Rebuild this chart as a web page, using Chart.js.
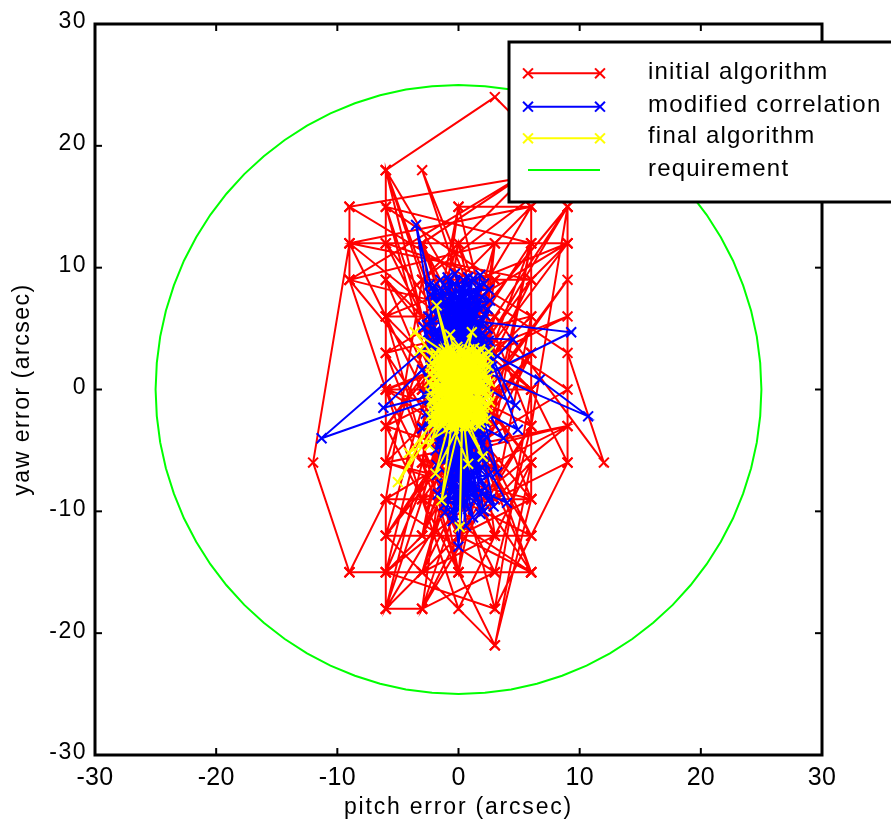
<!DOCTYPE html>
<html><head><meta charset="utf-8">
<script src="https://cdn.jsdelivr.net/npm/chart.js@4.4.0/dist/chart.umd.min.js"></script>
<style>html,body{margin:0;padding:0;background:#fff;}canvas{display:block;}</style>
</head><body>
<canvas id="c" width="891" height="829"></canvas>
<script>
// ---------------- data ----------------
const seriesNames = ['initial algorithm', 'modified correlation', 'final algorithm', 'requirement'];
const xTickValues = [-30, -20, -10, 0, 10, 20, 30];
const yTickValues = [-30, -20, -10, 0, 10, 20, 30];
const xTitle = 'pitch error (arcsec)';
const yTitle = 'yaw error (arcsec)';

const initialAlgorithm = [
 [0,0],[3,-3],[-3,3],[0,6],[-6,6],[-6,-6],[3,-9],[6,-9],[6,9],[-3,9],
 [-6,18],[3,24],[9,18],[-9,15],[-9,9],[3,12],[0,-6],[-3,-12],[-6,-15],[-9,-15],
 [-12,-6],[-9,12],[9,12],[9,15],[6,-3],[3,-15],[-3,-18],[-6,-18],[-6,-9],[6,-9],
 [3,-21],[-6,-12],[0,-3],[-3,6],[6,15],[0,15],[-3,0],[3,6],[12,-6],[9,3],
 [0,9],[-3,18],[3,3],[-6,0],[6,0],[9,-6],[3,-9],[-3,-6],[0,-15],[6,-15],
 [0,-12],[-6,3],[6,6],[-3,-3],[3,9],[-6,12],[6,12],[0,3],[-3,-9],[3,-6],
 [-6,-3],[6,3],[0,-9],[-3,12],[6,18],[-9,9],[0,-18],[3,-12],[-3,-15],[6,-6],
 [-6,9],[3,0],[0,12],[-3,-6],[9,-3],[-6,-15],[3,-18],[6,-12],[-3,3],[0,-3],
 [6,9],[9,12],[-6,6],[0,0],[-3,-12],[3,3],[-6,-6],[6,-9],[0,6],[-3,12],
 [3,-3],[-6,-18],[-3,-9],[6,-15],[-9,-15],[-6,-9],[-3,9],[6,0],[-9,12],[3,-12],
 [0,9],[-6,-12],[6,-12],[9,-6],[9,15],[3,6],[-3,-15],[6,3],[0,-6],[-6,18],
 [-6,-3],[3,-21],[6,-6],[6,15],[-3,0],[0,-15],[6,12],[-6,15],[3,9],[0,3],
 [-3,-18],[3,-6],[-6,0],[0,-12],[6,-3],[0,0],
 [9,12],[-6,3],[6,-15],[-3,6],[6,15],[-9,12],[6,9],[-3,-3],[3,-15],[-6,-9],
 [9,0],[0,6],[-6,-18],[3,-9],[6,6],[-9,15],[9,18],[-3,9],[0,-9],[6,-12],
 [-6,12],[3,0],[-3,-18],[6,-3],[0,12],[-6,-6],[9,-3],[3,-6],[-3,12],[6,18],
 [-6,6],[0,-15],[3,12],[-3,-9],[6,3],[-6,-12],[9,9],[0,-3],[-6,15],[3,-18],
 [6,0],[-3,3],[0,9],[-6,-15],[3,6],[-9,9],[6,-9],[0,-12],[-3,0],[9,6],
 [-6,0],[3,-3],[6,12],[-3,-12],[0,3],[-6,9],[3,-12],[6,-6],[-3,6],[0,0],
 [9,15],[-6,-3],[3,9],[0,-6],[-3,-15],[6,-15],[-6,18],[3,3],[0,15],[-3,-6]
];

const modifiedCorrelation = [
 [0.3,1.2],[-0.8,4.5],[1.1,-2.3],[-0.4,6.8],[0.9,-5.1],[-1.2,2.7],[1.6,7.9],[-0.2,-7.4],[0.7,3.6],[-1.9,-1.8],
 [1.3,5.2],[-0.6,-4.3],[0.2,8.4],[-1.4,0.6],[2.1,-3.7],[-0.9,6.1],[0.5,-8.6],[-2.2,3.9],[1.0,1.5],[-0.3,-6.2],
 [1.8,9.4],[0.4,-2.9],[-1.1,7.2],[0.8,-9.8],[-0.7,2.2],[1.5,-6.7],[-3.5,13.5],[-2.2,5.7],[0.1,-1.0],[1.2,6.5],
 [-1.6,-3.4],[0.6,4.8],[-0.5,-10.8],[2.3,0.3],[-1.3,8.1],[0.9,-7.9],[-2.5,6.0],[1.7,-0.9],[-0.1,5.5],[2.9,-9.6],
 [-0.8,-5.6],[1.4,3.0],[-1.8,-7.0],[0.3,7.6],[4.7,-1.3],[-0.6,1.9],[1.9,7.6],[-1.0,-2.6],[0.0,-12.9],[0.7,-4.6],
 [-1.5,4.1],[1.1,8.8],[-0.4,-8.3],[2.0,2.4],[-2.8,-0.4],[0.6,6.3],[-11.3,-4.0],[-2.4,-0.9],[1.3,-5.8],[-0.9,3.3],
 [0.4,9.0],[-0.2,-3.9],[1.8,-4.1],[-1.2,5.9],[9.3,4.7],[1.0,0.6],[-0.7,-6.9],[2.2,4.4],[-1.7,7.5],[1.8,-10.2],
 [-0.3,2.8],[3.7,-4.0],[-1.1,-1.5],[0.5,5.0],[-6.2,-1.5],[-1.4,-0.3],[1.6,6.9],[-0.8,-9.1],[0.9,2.0],[10.7,-2.2],
 [6.7,0.8],[1.2,3.8],[-2.0,8.5],[0.3,-7.1],[-0.5,4.6],[1.5,-2.0],[-1.0,7.0],[0.7,-3.2],[4.0,-9.3],[1.1,-8.0],
 [-0.6,0.4],[2.4,6.6],[-1.9,-5.0],[0.2,3.4],[-0.9,9.2],[1.3,-6.4],[-3.0,1.6],[-0.4,-2.2],[0.8,7.3],[4.9,-3.3],
 [0.6,-1.1],[-1.3,5.3],[1.7,1.1],[-0.2,-9.6],[0.5,8.0],[-2.1,2.0],[1.9,-7.5],[-0.7,6.4],[0.4,-4.8],[-1.6,3.1],
 [2.0,5.7],[-3.0,-3.2],[0.9,-0.5],[-0.5,7.9],[1.4,-9.0],[-1.0,1.2],[0.1,4.3],[4.5,4.1],[0.7,0.1],[-1.8,6.8],
 [1.0,-3.5],[-0.3,8.7],[0.8,-6.0],[-1.2,-4.4],[2.6,3.2],[-0.6,5.6],[0.3,-8.8],[-2.3,-2.5],[1.5,7.1],[-0.1,0.9],
 [0.6,-11.2],[-0.9,3.7],[1.2,-1.6],[-1.5,8.3],[0.4,2.6],[2.2,-6.1],[-0.8,6.0],[0.0,-5.3],[1.6,4.9],[-1.1,-8.4],
 [0.5,1.7],[-1.9,4.8],[0.9,-2.7],[-0.2,7.1],[1.3,0.0],
 [-2.3,7.8],[2.5,8.2],[-1.7,3.2],[2.2,6.1],[-2.5,4.7],[1.9,3.5],[-0.8,8.9],[2.6,7.3],[-2.1,6.4],[1.2,9.1],
 [-1.4,2.4],[2.4,5.0],[-2.4,8.6],[0.6,2.9],[-1.0,5.1],[2.1,8.7],[-2.2,3.5],[1.4,4.2],[-0.3,9.5],[2.3,2.8],
 [-1.9,7.1],[0.9,5.9],[-2.6,5.3],[1.7,8.5],[-0.6,3.3],[2.5,4.0],[-1.5,9.0],[0.2,6.0],[-2.0,4.4],[1.0,7.7],
 [-1.2,-9.5],[2.2,-8.1],[-0.9,-3.5],[1.9,-9.8],[-1.8,-6.2],[2.4,-4.9],[-0.5,-9.9],[1.6,-3.3],[-1.4,-7.8],[2.5,-7.0],
 [-0.2,-4.0],[1.2,-10.5],[-1.6,-4.7],[2.0,-5.3],[-0.7,-8.0],[1.5,-8.9],[-1.1,-5.7],[2.6,-9.0],[0.3,-3.6],[-0.4,-10.3],
 [1.8,-6.6],[-1.3,-3.1],[2.3,-3.9],[0.1,-9.2],[-1.7,-8.6],[1.0,-4.4],[2.1,-10.0],[-0.6,-7.3],[1.4,-5.5],[-2.0,-3.9],
 [0.4,8.2],[-1.6,6.0],[2.0,6.8],[-0.7,4.0],[1.1,2.6],[-2.3,2.6],[0.8,9.2],[-1.2,3.9],[2.4,3.6],[-0.2,6.6],
 [3.2,-6.8],[-2.9,5.1],[0.5,-6.9],[1.7,5.4],[-1.1,-10.1],[2.8,1.9],[-2.7,-2.0],[0.9,-8.4],[-0.4,3.0],[2.2,-2.7]
];

const finalAlgorithm = [
 [0.2,0.4],[1.6,2.2],[-1.5,-2.1],[1.8,-1.9],[-1.7,2.0],[0.9,-2.8],[-0.8,2.9],[2.0,0.5],[-2.0,-0.6],[1.2,2.7],
 [-1.3,-2.7],[1.9,-1.0],[-1.8,1.2],[0.5,3.1],[-0.4,-3.2],[2.1,1.4],[-2.1,-1.5],[1.4,-2.4],[-1.2,2.5],[0.1,-1.3],
 [-1.8,6.9],[0.3,-0.2],[1.7,1.8],[-1.6,-1.7],[1.0,-3.0],[-0.9,3.0],[2.2,-0.3],[-2.2,0.3],[0.6,2.4],[-5.0,-7.6],
 [0.7,0.8],[-1.1,-2.4],[1.5,2.9],[-1.9,1.8],[1.8,-2.2],[-0.6,-2.9],[0.4,2.0],[-3.6,4.7],[0.0,0.2],[1.3,-1.6],
 [-1.4,1.6],[2.0,2.3],[-2.0,-2.0],[0.8,-0.6],[-0.7,1.1],[1.1,4.7],[-0.3,-1.8],[1.6,0.2],[-1.5,-0.5],[0.2,2.8],
 [-1.4,-9.1],[0.5,-1.0],[-1.0,2.2],[1.9,1.1],[-1.7,-2.6],[0.9,2.5],[-0.2,-2.5],[1.4,-2.8],[-2.1,1.0],[0.8,-6.1],
 [0.1,0.9],[-1.2,-1.2],[1.7,2.6],[-1.9,-0.2],[1.2,-0.8],[-0.5,3.2],[0.3,-2.7],[2.2,0.8],[-0.7,4.5],[0.6,-0.4],
 [-1.6,2.7],[1.0,1.6],[-0.9,-2.0],[1.9,-1.6],[-2.2,-1.1],[0.4,1.3],[0.1,-11.3],[0.3,-1.5],[-1.1,1.9],[1.5,-2.1],
 [-0.8,-3.0],[1.8,0.9],[-1.3,0.5],[2.0,-5.5],[0.0,-0.8],[-1.8,2.4],[1.1,2.1],[-0.4,-1.4],[1.6,-0.5],[-2.0,1.5],
 [0.7,3.0],[-1.5,-2.8],[1.3,1.0],[-0.6,0.0],[1.9,2.7],[-3.2,3.2],[0.2,-0.5],[1.2,-2.6],[-1.0,-0.9],[0.5,1.8],
 [-1.9,-6.9],[0.4,-2.2],[-1.4,2.9],[1.7,-1.2],[-0.3,1.5],[2.1,-2.0],[-1.7,0.1],[0.9,0.3],[-0.8,-1.6],[1.4,2.4],
 [-2.1,-2.4],[0.6,-3.1],[-0.2,2.3],[1.9,2.7],[-1.1,0.8],[0.8,-1.9],[-1.6,-1.0],[1.5,1.5],[0.0,3.3],[-0.5,-2.2],
 [2.3,0.0],[-2.3,-0.3],[0.3,0.6],
 [1.8,3.3],[-2.2,-2.8],[2.4,-1.4],[-1.9,3.0],[0.6,-2.4],[-0.1,3.5],[2.5,1.9],[-2.3,1.3],[1.0,-2.9],[-1.2,3.3],
 [2.3,-2.5],[-2.0,-1.9],[0.2,1.6],[-1.5,0.9],[2.6,0.6],[-0.9,-2.6],[1.3,3.4],[-2.2,2.2],[1.7,-3.0],[-0.4,0.5],
 [0.9,1.2],[-1.8,-1.3],[2.4,2.6],[-1.3,-3.0],[0.4,-1.2],[-0.6,2.0],[2.0,-0.8],[-2.3,-2.2],[1.1,0.4],[-0.2,-0.3],
 [1.5,3.1],[-1.6,1.4],[0.7,-2.0],[-2.1,2.7],[2.2,1.2],[-0.7,-1.1],[0.0,2.5],[1.8,-2.7],[-1.0,3.1],[2.5,-0.5],
 [-2.4,0.6],[0.8,2.9],[-0.5,-2.8],[1.2,1.8],[-1.7,-0.8],[2.1,-1.5],[-0.3,1.0],[0.5,-3.0],[-1.4,2.0],[1.6,-1.8],
 [-4.1,-5.2],[0.6,0.7],[-1.1,-2.1],[2.3,2.0],[-2.0,0.0],[0.9,-1.3],[-0.8,3.4],[1.4,0.8],[-1.9,-2.3],[2.6,-1.0],
 [0.1,2.1],[-1.3,1.3],[1.7,3.0],[-2.2,-0.9],[1.0,-2.3],[-0.6,2.6],[2.2,0.3],[-1.5,-1.6],[0.3,3.2],[-0.9,0.2],
 [2.5,3.1],[-2.1,-2.9],[1.3,-0.2],[-0.4,-2.0],[1.9,1.9],[-1.8,0.7],[0.7,-2.6],[-1.2,2.8],[2.0,-2.4],[-0.1,1.4],
 [-2.4,-4.6],[0.4,0.1],[1.5,-1.0],[-1.6,2.2],[2.4,0.9],[-0.7,-0.4],[0.9,3.3],[-2.3,1.8],[1.1,-1.7],[0.0,-2.9]
];

const requirementX = [
 25.00, 24.90, 24.62, 24.15, 23.49, 22.66, 21.65, 20.48, 19.15, 17.68, 16.07, 14.34, 12.50, 10.57, 8.55, 6.47, 4.34, 2.18, 0.00,
 -2.18, -4.34, -6.47, -8.55, -10.57, -12.50, -14.34, -16.07, -17.68, -19.15, -20.48, -21.65, -22.66, -23.49, -24.15, -24.62, -24.90, -25.00,
 -24.90, -24.62, -24.15, -23.49, -22.66, -21.65, -20.48, -19.15, -17.68, -16.07, -14.34, -12.50, -10.57, -8.55, -6.47, -4.34, -2.18, 0.00,
 2.18, 4.34, 6.47, 8.55, 10.57, 12.50, 14.34, 16.07, 17.68, 19.15, 20.48, 21.65, 22.66, 23.49, 24.15, 24.62, 24.90, 25.00
];
const requirementY = [
 0.00, 2.18, 4.34, 6.47, 8.55, 10.57, 12.50, 14.34, 16.07, 17.68, 19.15, 20.48, 21.65, 22.66, 23.49, 24.15, 24.62, 24.90, 25.00,
 24.90, 24.62, 24.15, 23.49, 22.66, 21.65, 20.48, 19.15, 17.68, 16.07, 14.34, 12.50, 10.57, 8.55, 6.47, 4.34, 2.18, 0.00,
 -2.18, -4.34, -6.47, -8.55, -10.57, -12.50, -14.34, -16.07, -17.68, -19.15, -20.48, -21.65, -22.66, -23.49, -24.15, -24.62, -24.90, -25.00,
 -24.90, -24.62, -24.15, -23.49, -22.66, -21.65, -20.48, -19.15, -17.68, -16.07, -14.34, -12.50, -10.57, -8.55, -6.47, -4.34, -2.18, 0.00
];

// ---------------- chart ----------------
const FONT = "'Liberation Sans', Arial, Helvetica, sans-serif";
const toPts = arr => arr.map(p => ({x: p[0], y: p[1]}));
const markerSeries = (label, pts, color, order) => ({
  label, data: toPts(pts), showLine: true, borderColor: color, backgroundColor: color,
  borderWidth: 2, pointStyle: 'crossRot', pointRadius: 7, pointHoverRadius: 7,
  pointBorderWidth: 2, pointBorderColor: color, tension: 0, order
});

const framePlugin = {
  id: 'frame',
  beforeDraw(chart) {
    const patch = (scale, labelSp, titleSp) => {
      if (scale._lsPatched) return;
      scale._lsPatched = true;
      const dl = scale.drawLabels, dt = scale.drawTitle;
      scale.drawLabels = function (a) { const c = this.ctx; c.letterSpacing = labelSp; dl.call(this, a); c.letterSpacing = '0px'; };
      scale.drawTitle = function () { const c = this.ctx; c.letterSpacing = titleSp; dt.call(this); c.letterSpacing = '0px'; };
    };
    patch(chart.scales.x, '0.3px', '1.8px');
    patch(chart.scales.y, '1.5px', '1.5px');
  },
  afterDraw(chart) {
    const ctx = chart.ctx;
    const {left, right, top, bottom} = chart.chartArea;
    const xs = chart.scales.x, ys = chart.scales.y;
    ctx.save();
    ctx.strokeStyle = '#000';
    ctx.lineCap = 'butt';
    const seg = (a, b, c, d) => { ctx.beginPath(); ctx.moveTo(a, b); ctx.lineTo(c, d); ctx.stroke(); };
    // inward tick marks on all four sides
    ctx.lineWidth = 2;
    xTickValues.forEach(v => { const p = xs.getPixelForValue(v); seg(p, bottom, p, bottom - 7); seg(p, top, p, top + 7); });
    yTickValues.forEach(v => { const p = ys.getPixelForValue(v); seg(left, p, left + 7, p); seg(right, p, right - 7, p); });
    // axes box
    ctx.lineWidth = 3;
    ctx.strokeRect(left, top, right - left, bottom - top);

    // legend (drawn above the data)
    const lx = 509, ly = 42, lh = 160;
    ctx.fillStyle = '#fff';
    ctx.fillRect(lx, ly, 400, lh);
    ctx.lineWidth = 3;
    ctx.strokeRect(lx, ly, 400, lh);
    const lineY = [73.3, 106.7, 138.3, 170];
    const baseY = [79.3, 111.7, 143.3, 175.7];
    ctx.font = '24px ' + FONT;
    ctx.textBaseline = 'alphabetic';
    ctx.textAlign = 'left';
    chart.data.datasets.forEach((ds, i) => {
      const y = lineY[i];
      ctx.strokeStyle = ds.borderColor;
      ctx.lineWidth = 2;
      seg(528, y, 600, y);
      if (ds.pointRadius > 0) {
        const r = ds.pointRadius * Math.SQRT1_2;
        [528, 600].forEach(cx => { seg(cx - r, y - r, cx + r, y + r); seg(cx - r, y + r, cx + r, y - r); });
      }
      ctx.fillStyle = '#000';
      ctx.letterSpacing = '1.2px';
      ctx.fillText(ds.label, 648, baseY[i]);
      ctx.letterSpacing = '0px';
    });
    ctx.restore();
  }
};

new Chart(document.getElementById('c'), {
  type: 'scatter',
  data: {
    datasets: [
      markerSeries(seriesNames[0], initialAlgorithm, '#ff0000', 2),
      markerSeries(seriesNames[1], modifiedCorrelation, '#0000ff', 1),
      markerSeries(seriesNames[2], finalAlgorithm, '#ffff00', 0),
      {
        label: seriesNames[3],
        data: requirementX.map((x, i) => ({x, y: requirementY[i]})),
        showLine: true, borderColor: '#00ff00', backgroundColor: '#00ff00',
        borderWidth: 2, pointRadius: 0, pointHoverRadius: 0, tension: 0, order: 3
      }
    ]
  },
  options: {
    responsive: false,
    animation: false,
    devicePixelRatio: 1,
    events: [],
    layout: {padding: {top: 24, right: 69, left: 0, bottom: 0}},
    plugins: {legend: {display: false}, tooltip: {enabled: false}},
    scales: {
      x: {
        type: 'linear', min: -30, max: 30,
        afterBuildTicks: s => { s.ticks = xTickValues.map(v => ({value: v})); },
        afterFit: s => { s.height = 74; },
        grid: {display: false, drawTicks: false},
        border: {display: false},
        ticks: {font: {family: FONT, size: 25}, color: '#000', padding: 8, maxRotation: 0, autoSkip: false},
        title: {display: true, text: xTitle, color: '#000', font: {family: FONT, size: 23}, padding: {top: 0, bottom: 8}}
      },
      y: {
        type: 'linear', min: -30, max: 30,
        afterBuildTicks: s => { s.ticks = yTickValues.map(v => ({value: v})); },
        afterFit: s => { s.width = 95; },
        grid: {display: false, drawTicks: false},
        border: {display: false},
        ticks: {font: {family: FONT, size: 23}, color: '#000', padding: 8, labelOffset: -2, autoSkip: false},
        title: {display: true, text: yTitle, color: '#000', font: {family: FONT, size: 23}, padding: {top: 9, bottom: 0}}
      }
    }
  },
  plugins: [framePlugin]
});
</script>
</body></html>
